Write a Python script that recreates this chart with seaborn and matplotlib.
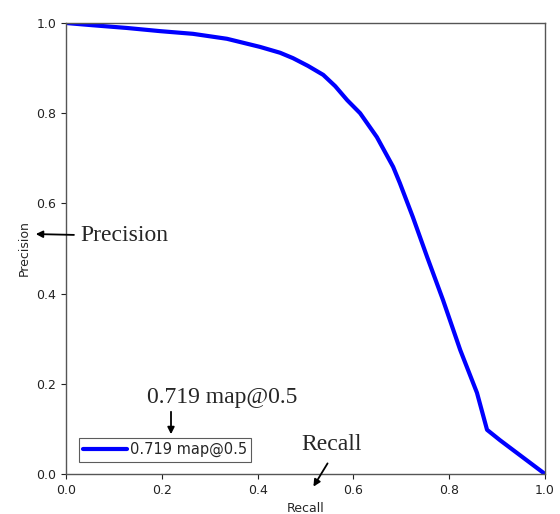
import matplotlib
matplotlib.use('Agg')
import matplotlib.pyplot as plt
import numpy as np
import pandas as pd
import seaborn as sns

# PR curve values
recall = [0.0, 0.056, 0.127, 0.196, 0.265, 0.336, 0.405, 0.447, 0.474, 0.505, 0.537,
          0.562, 0.587, 0.614, 0.649, 0.683, 0.697, 0.724, 0.754, 0.787, 0.823, 0.858,
          0.879, 0.906, 1.0]
precision = [1.0, 0.995, 0.989, 0.982, 0.976, 0.965, 0.947, 0.934, 0.922, 0.905, 0.885,
             0.860, 0.829, 0.800, 0.747, 0.681, 0.645, 0.570, 0.481, 0.386, 0.275, 0.180,
             0.098, 0.075, 0.0]
legend_label = '0.719 map@0.5'
ticks = [0.0, 0.2, 0.4, 0.6, 0.8, 1.0]

sns.set_style("ticks")
plt.rcParams['font.family'] = ['DejaVu Sans']

W, H = 560, 514
fig = plt.figure(figsize=(W / 100, H / 100), dpi=100)
ax = fig.add_axes([66 / W, 1 - 474 / H, 479 / W, 451 / H])

df = pd.DataFrame({'Recall': recall, 'Precision': precision})
sns.lineplot(data=df, x='Recall', y='Precision', ax=ax, color='#0000ff',
             linewidth=3, label=legend_label, sort=False)

ax.set_xlim(0, 1)
ax.set_ylim(0, 1)
ax.set_xticks(ticks)
ax.set_yticks(ticks)
ax.tick_params(labelsize=9, colors='#222222')
ax.set_xlabel('Recall', fontsize=9)
ax.set_ylabel('Precision', fontsize=9)
for s in ax.spines.values():
    s.set_color('#555555')
    s.set_linewidth(1)

leg = ax.legend(loc='lower left', bbox_to_anchor=(0.027, 0.027), borderaxespad=0,
                fontsize=10.5, frameon=True, fancybox=False, edgecolor='#333333',
                borderpad=0.3, handlelength=3, handletextpad=0.2)
leg.get_frame().set_linewidth(0.8)


def fp(x, y):
    # pixel position (top-left origin) -> figure fraction
    return (x / W, 1 - y / H)


serif = ['Liberation Serif', 'DejaVu Serif']
arrow = dict(arrowstyle='-|>', color='black', lw=1.3, mutation_scale=10)
ax.annotate('Precision', xy=fp(33, 234), xycoords='figure fraction',
            xytext=fp(80, 236), textcoords='figure fraction',
            fontsize=17, family=serif, va='center', ha='left', arrowprops=arrow)
ax.annotate('', xy=fp(171, 437), xycoords='figure fraction',
            xytext=fp(171, 409), textcoords='figure fraction', arrowprops=arrow)
fig.text(*fp(222, 398), '0.719 map@0.5', fontsize=17, family=serif, ha='center', va='center')
ax.annotate('', xy=fp(312, 489), xycoords='figure fraction',
            xytext=fp(329, 461), textcoords='figure fraction', arrowprops=arrow)
fig.text(*fp(332, 444), 'Recall', fontsize=17, family=serif, ha='center', va='center')

fig.savefig('out.png', dpi=100, facecolor='white')
